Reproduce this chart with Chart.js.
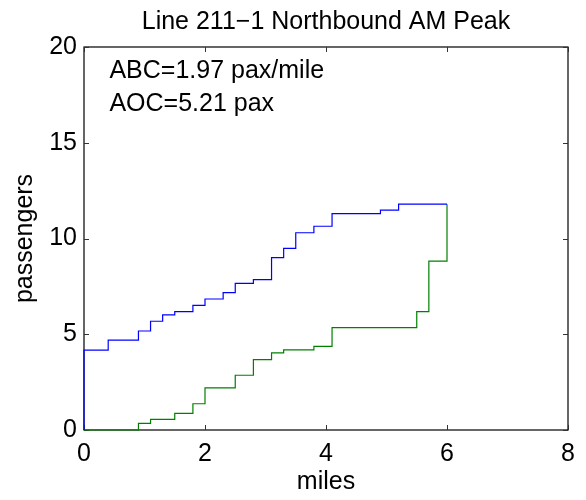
<!DOCTYPE html>
<html>
<head>
<meta charset="utf-8">
<script src="https://cdn.jsdelivr.net/npm/chart.js@4.4.0/dist/chart.umd.min.js"></script>
<style>
  html, body { margin: 0; padding: 0; background: #ffffff; }
  #wrap { width: 586px; height: 500px; }
</style>
</head>
<body>
<div id="wrap"><canvas id="c" width="586" height="500"></canvas></div>
<script>
// ---- Data ----
const titleText = "Line 211\u22121 Northbound AM Peak";
const xLabel = "miles";
const yLabel = "passengers";
// stop positions along the route (miles); first entry repeated for the start of the curve
const stopMiles = [0, 0, 0.4, 0.9, 1.1, 1.3, 1.5, 1.8, 2.0, 2.3, 2.5, 2.8, 3.1, 3.3, 3.5, 3.8, 4.1, 4.9, 5.2, 5.5, 5.7, 6.0];
// cumulative boardings (blue)
const cumBoard = [0, 4.17, 4.69, 5.17, 5.68, 6.01, 6.18, 6.51, 6.84, 7.17, 7.66, 7.85, 9.0, 9.48, 10.3, 10.64, 11.3, 11.48, 11.79, 11.79, 11.79, 11.79];
// cumulative alightings (green)
const cumAlight = [0, 0, 0, 0.35, 0.56, 0.56, 0.87, 1.37, 2.2, 2.2, 2.86, 3.68, 4.03, 4.18, 4.18, 4.37, 5.35, 5.35, 5.35, 6.18, 8.82, 11.79];
const xTicks = [0, 2, 4, 6, 8];
const yTicks = [0, 5, 10, 15, 20];
const notes = [
  { text: "ABC=1.97 pax/mile", x: 0.42, y: 18.75 },
  { text: "AOC=5.21 pax", x: 0.42, y: 17.0 }
];

const FONT = "'Liberation Sans', Arial, Helvetica, sans-serif";
const FS = 25;

const toPts = (xs, ys) => xs.map((x, i) => ({ x: x, y: ys[i] }));

const boxPlugin = {
  id: 'matlabBox',
  beforeDatasetsDraw(chart) {
    const { ctx, chartArea: a, scales } = chart;
    ctx.save();
    ctx.strokeStyle = '#000000';
    ctx.lineWidth = 1.2;
    ctx.strokeRect(a.left, a.top, a.right - a.left, a.bottom - a.top);
    const tl = 5;
    ctx.lineWidth = 1;
    ctx.strokeStyle = '#333333';
    ctx.beginPath();
    xTicks.forEach(v => {
      const px = Math.round(scales.x.getPixelForValue(v)) + 0.5;
      ctx.moveTo(px, a.bottom); ctx.lineTo(px, a.bottom - tl);
      ctx.moveTo(px, a.top); ctx.lineTo(px, a.top + tl);
    });
    yTicks.forEach(v => {
      const py = Math.round(scales.y.getPixelForValue(v)) + 0.5;
      ctx.moveTo(a.left, py); ctx.lineTo(a.left + tl, py);
      ctx.moveTo(a.right, py); ctx.lineTo(a.right - tl, py);
    });
    ctx.stroke();
    ctx.restore();
  },
  afterDraw(chart) {
    const { ctx, scales } = chart;
    ctx.save();
    ctx.fillStyle = '#000000';
    ctx.font = FS + 'px ' + FONT;
    ctx.textAlign = 'left';
    ctx.textBaseline = 'middle';
    notes.forEach(n => {
      ctx.fillText(n.text, scales.x.getPixelForValue(n.x), scales.y.getPixelForValue(n.y));
    });
    ctx.restore();
  }
};

new Chart(document.getElementById('c'), {
  type: 'line',
  data: {
    datasets: [
      {
        label: 'boardings',
        data: toPts(stopMiles, cumBoard),
        borderColor: '#0000ff',
        borderWidth: 1.2,
        stepped: 'before',
        pointRadius: 0,
        fill: false,
        clip: 3
      },
      {
        label: 'alightings',
        data: toPts(stopMiles, cumAlight),
        borderColor: '#008000',
        borderWidth: 1.2,
        stepped: 'before',
        pointRadius: 0,
        fill: false,
        clip: 3
      }
    ]
  },
  options: {
    responsive: false,
    animation: false,
    events: [],
    layout: { padding: { top: 0, right: 18, left: 0, bottom: 0 } },
    plugins: {
      legend: { display: false },
      tooltip: { enabled: false },
      title: {
        display: true,
        text: titleText,
        fullSize: false,
        color: '#000000',
        font: { family: FONT, size: FS, weight: 'normal', lineHeight: 1.2 },
        padding: { top: 7, bottom: 10 }
      }
    },
    scales: {
      x: {
        type: 'linear',
        min: 0, max: 8,
        afterFit(s) { s.height = 70; },
        afterBuildTicks(s) { s.ticks = xTicks.map(v => ({ value: v })); },
        grid: { display: false, drawTicks: false },
        border: { display: false },
        ticks: {
          color: '#000000',
          font: { family: FONT, size: FS },
          padding: 9,
          maxRotation: 0
        },
        title: {
          display: true,
          text: xLabel,
          color: '#000000',
          font: { family: FONT, size: FS, lineHeight: 1.2 },
          padding: { top: 0, bottom: 3 }
        }
      },
      y: {
        type: 'linear',
        min: 0, max: 20,
        afterFit(s) { s.width = 84; },
        afterBuildTicks(s) { s.ticks = yTicks.map(v => ({ value: v })); },
        grid: { display: false, drawTicks: false },
        border: { display: false },
        ticks: {
          color: '#000000',
          font: { family: FONT, size: FS },
          padding: 7
        },
        title: {
          display: true,
          text: yLabel,
          color: '#000000',
          font: { family: FONT, size: FS, lineHeight: 1.2 },
          padding: { top: 10, bottom: 0 }
        }
      }
    }
  },
  plugins: [boxPlugin]
});
</script>
</body>
</html>
